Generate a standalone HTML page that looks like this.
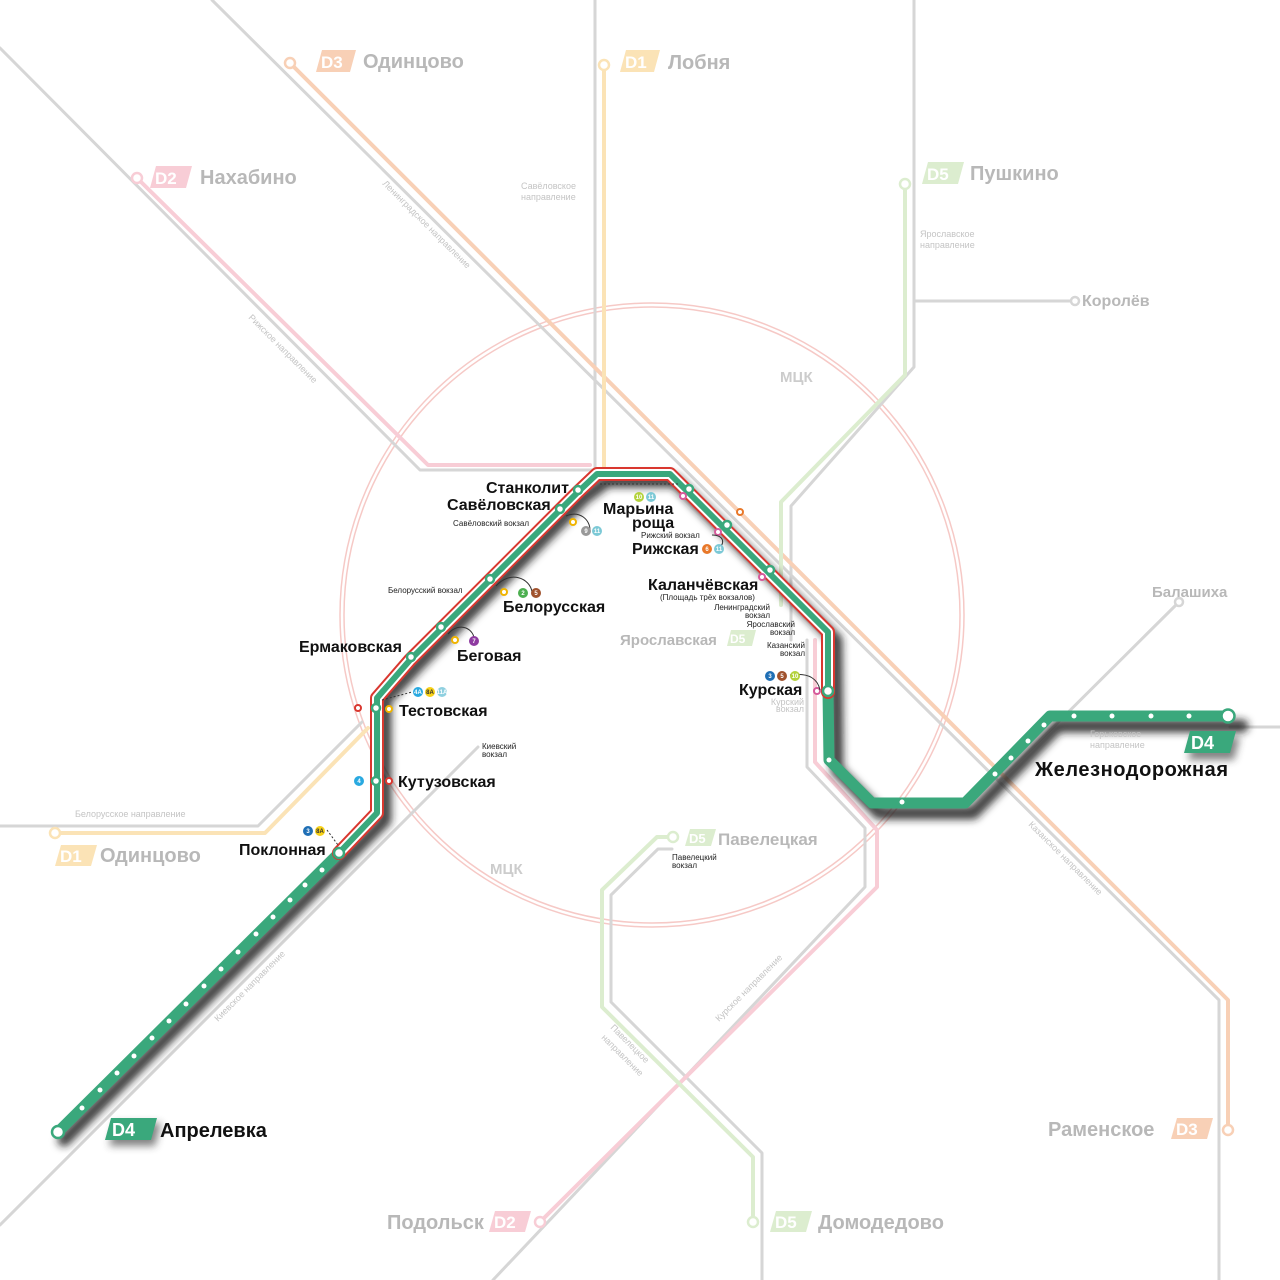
<!DOCTYPE html>
<html><head><meta charset="utf-8"><style>
html,body{margin:0;padding:0;background:#fff}
svg{display:block}
text{font-family:"Liberation Sans",sans-serif}
.b{font-weight:bold;fill:#111;font-size:16px}
.f{font-weight:bold;fill:#b8b8b8;font-size:20px}
.s{fill:#222;font-size:8px}
.d{fill:#c4c4c4;font-size:9px}
</style></head><body>
<svg width="1280" height="1280" viewBox="0 0 1280 1280" xmlns="http://www.w3.org/2000/svg">
<defs>
<filter id="sh" x="-20%" y="-20%" width="140%" height="140%"><feGaussianBlur stdDeviation="4"/></filter>
</defs>
<g fill="none" stroke-linejoin="round" stroke-linecap="round">
<circle cx="652" cy="615" r="308" stroke="#f6c9c6" stroke-width="1.5"/>
<circle cx="652" cy="615" r="312" stroke="#f6c9c6" stroke-width="1.5"/>
<g stroke="#d6d6d6" stroke-width="3">
<polyline points="0,48 420,470 600,470"/>
<line x1="595" y1="0" x2="595" y2="470"/>
<polyline points="212,0 1219,1000 1219,1280"/>
<polyline points="914,0 914,367 791,506 791,640"/>
<line x1="914" y1="301" x2="1072" y2="301"/>
<polyline points="0,826 258,826 362,722"/>
<line x1="478" y1="747" x2="0" y2="1225"/>
<polyline points="807,640 807,767 865,828 865,887 493,1280"/>
<polyline points="672,849 658,849 611,895 611,1002 762,1153 762,1280"/>
<line x1="1230" y1="727" x2="1280" y2="727"/>
<line x1="1179" y1="602" x2="1000" y2="780"/>
</g>
<polyline points="290,63 1228,1000 1228,1130" stroke="#f8d0b6" stroke-width="4"/>
<line x1="604" y1="65" x2="604" y2="470" stroke="#fbe3b6" stroke-width="4"/>
<polyline points="55,833 265,833 368,728" stroke="#fbe3b6" stroke-width="4"/>
<polyline points="137,178 428,465 590,465" stroke="#f8cdd6" stroke-width="4"/>
<polyline points="815,640 815,762 877,830 877,887 540,1222" stroke="#f8cdd6" stroke-width="4"/>
<polyline points="905,184 905,375 781,502 781,605" stroke="#dcedcf" stroke-width="4"/>
<polyline points="673,837 657,837 602,890 602,1007 753,1157 753,1222" stroke="#dcedcf" stroke-width="4"/>
<g stroke-width="2.5" fill="#fff">
<circle cx="290" cy="63" r="5" stroke="#f8d0b6"/>
<circle cx="604" cy="65" r="5" stroke="#fbe3b6"/>
<circle cx="137" cy="178" r="5" stroke="#f8cdd6"/>
<circle cx="905" cy="184" r="5" stroke="#dcedcf"/>
<circle cx="1075" cy="301" r="4" stroke="#d6d6d6"/>
<circle cx="1179" cy="602" r="4" stroke="#d6d6d6"/>
<circle cx="55" cy="833" r="5" stroke="#fbe3b6"/>
<circle cx="673" cy="837" r="5" stroke="#dcedcf"/>
<circle cx="1228" cy="1130" r="5" stroke="#f8d0b6"/>
<circle cx="540" cy="1222" r="5" stroke="#f8cdd6"/>
<circle cx="753" cy="1222" r="5" stroke="#dcedcf"/>
</g>
<g filter="url(#sh)" stroke="#222" stroke-opacity="0.85">
<polyline points="64,1140 345,860 385,820 385,700 418,665 584,498 607,481 675,481 836,640 837,770 879,813 973,813 1058,726 1242,726" stroke-width="13"/>
</g>
<polyline points="58,1132 339,853" stroke="#3aa87c" stroke-width="11"/>
<polyline points="828,690 829,760 872,803 965,803 1050,716 1228,716" stroke="#3aa87c" stroke-width="11"/>
<polyline points="339,853 377,813 377,698 410,660 578,492 597,474 670,474 828,632 828,692" stroke="#d9372f" stroke-width="14"/>
<polyline points="339,853 377,813 377,698 410,660 578,492 597,474 670,474 828,632 828,692" stroke="#fff" stroke-width="10"/>
<polyline points="339,853 377,813 377,698 410,660 578,492 597,474 670,474 828,632 828,692" stroke="#3aa87c" stroke-width="6"/>
</g>
<g fill="#fff" stroke="#3aa87c" stroke-width="2.5">
<circle cx="578" cy="490" r="4"/><circle cx="560" cy="509" r="4"/><circle cx="490" cy="579" r="4"/>
<circle cx="441" cy="627" r="4"/><circle cx="411" cy="657" r="4"/><circle cx="376" cy="708" r="4"/>
<circle cx="376" cy="781" r="4"/><circle cx="339" cy="853" r="5"/><circle cx="689" cy="489" r="4"/>
<circle cx="727" cy="525" r="4"/><circle cx="770" cy="570" r="4"/><circle cx="828" cy="691" r="5"/>
<circle cx="58" cy="1132" r="6"/><circle cx="1228" cy="716" r="6.5"/>
</g>
<g fill="#fff">
<circle cx="82" cy="1108" r="2.5"/><circle cx="100" cy="1090" r="2.5"/><circle cx="117" cy="1073" r="2.5"/><circle cx="134" cy="1056" r="2.5"/><circle cx="152" cy="1038" r="2.5"/><circle cx="169" cy="1021" r="2.5"/><circle cx="186" cy="1004" r="2.5"/><circle cx="204" cy="986" r="2.5"/><circle cx="221" cy="969" r="2.5"/><circle cx="238" cy="952" r="2.5"/><circle cx="256" cy="934" r="2.5"/><circle cx="273" cy="917" r="2.5"/><circle cx="290" cy="900" r="2.5"/><circle cx="305" cy="885" r="2.5"/><circle cx="322" cy="870" r="2.5"/>
<circle cx="829" cy="760" r="2.5"/><circle cx="902" cy="802" r="2.5"/><circle cx="995" cy="774" r="2.5"/><circle cx="1011" cy="758" r="2.5"/><circle cx="1028" cy="741" r="2.5"/><circle cx="1044" cy="725" r="2.5"/><circle cx="1074" cy="716" r="2.5"/><circle cx="1112" cy="716" r="2.5"/><circle cx="1151" cy="716" r="2.5"/><circle cx="1189" cy="716" r="2.5"/>
</g>
<g stroke-width="2" fill="#fff">
<circle cx="573" cy="522" r="3" stroke="#f0b400"/><circle cx="504" cy="592" r="3" stroke="#f0b400"/><circle cx="455" cy="640" r="3" stroke="#f0b400"/><circle cx="389" cy="709" r="3" stroke="#f0b400"/>
<circle cx="358" cy="708" r="3" stroke="#d9372f"/><circle cx="389" cy="781" r="3" stroke="#d9372f"/>
<circle cx="683" cy="496" r="3" stroke="#d65a9b"/><circle cx="718" cy="532" r="3" stroke="#d65a9b"/><circle cx="762" cy="577" r="3" stroke="#d65a9b"/><circle cx="817" cy="691" r="3" stroke="#d65a9b"/><circle cx="740" cy="512" r="3" stroke="#e8782a"/>
</g>
<g stroke="#333" stroke-width="1" fill="none">
<path d="M566,516 C580,510 590,520 590,530"/><path d="M496,586 C510,570 530,578 532,592"/><path d="M448,634 C460,620 475,630 474,640"/><path d="M712,535 C725,535 725,545 718,548"/><path d="M790,675 C810,672 818,680 820,690"/>
<path d="M600,484 L680,484" stroke-dasharray="2,2"/><path d="M382,700 L412,692" stroke-dasharray="2,2"/><path d="M327,830 L338,845" stroke-dasharray="2,2"/>
</g>
<g font-family="Liberation Sans" font-size="6" font-weight="bold" fill="#fff" text-anchor="middle">
<circle cx="586" cy="531" r="5" fill="#999"/><circle cx="597" cy="531" r="5" fill="#7cc9d6"/><text x="586" y="533">9</text><text x="597" y="533">11</text>
<circle cx="523" cy="593" r="5" fill="#4caf50"/><circle cx="536" cy="593" r="5" fill="#a0522d"/><text x="523" y="595">2</text><text x="536" y="595">5</text>
<circle cx="474" cy="641" r="5" fill="#8e3aa0"/><text x="474" y="643">7</text>
<circle cx="418" cy="692" r="5" fill="#29a9e0"/><circle cx="430" cy="692" r="5" fill="#f7d117"/><circle cx="442" cy="692" r="5" fill="#8fd0e0"/><text x="418" y="694">4A</text><text x="430" y="694" fill="#333">8A</text><text x="442" y="694">11A</text>
<circle cx="359" cy="781" r="5" fill="#29a9e0"/><text x="359" y="783">4</text>
<circle cx="308" cy="831" r="5" fill="#1f6fb5"/><circle cx="320" cy="831" r="5" fill="#f7d117"/><text x="308" y="833">3</text><text x="320" y="833" fill="#333">8A</text>
<circle cx="639" cy="497" r="5" fill="#b4d23c"/><circle cx="651" cy="497" r="5" fill="#7cc9d6"/><text x="639" y="499">10</text><text x="651" y="499">11</text>
<circle cx="707" cy="549" r="5" fill="#e8782a"/><circle cx="719" cy="549" r="5" fill="#7cc9d6"/><text x="707" y="551">6</text><text x="719" y="551">11</text>
<circle cx="770" cy="676" r="5" fill="#1f6fb5"/><circle cx="782" cy="676" r="5" fill="#a0522d"/><circle cx="795" cy="676" r="5" fill="#b4d23c"/><text x="770" y="678">3</text><text x="782" y="678">5</text><text x="795" y="678">10</text>
</g>
<text class="b" x="486" y="493">Станколит</text>
<text class="b" x="447" y="510">Савёловская</text>
<text class="s" x="453" y="526">Савёловский вокзал</text>
<text class="s" x="388" y="593">Белорусский вокзал</text>
<text class="b" x="503" y="612">Белорусская</text>
<text class="b" x="457" y="661">Беговая</text>
<text class="b" x="299" y="652">Ермаковская</text>
<text class="b" x="399" y="716">Тестовская</text>
<text class="s" x="482" y="749">Киевский</text><text class="s" x="482" y="757">вокзал</text>
<text class="b" x="398" y="787">Кутузовская</text>
<text class="b" x="239" y="855">Поклонная</text>
<text class="b" x="603" y="514">Марьина</text><text class="b" x="632" y="528">роща</text>
<text class="s" x="641" y="538">Рижский вокзал</text>
<text class="b" x="632" y="554">Рижская</text>
<text class="b" x="648" y="590">Каланчёвская</text>
<text class="s" x="660" y="600">(Площадь трёх вокзалов)</text>
<text class="s" x="770" y="610" text-anchor="end">Ленинградский</text><text class="s" x="770" y="618" text-anchor="end">вокзал</text>
<text class="s" x="795" y="627" text-anchor="end">Ярославский</text><text class="s" x="795" y="635" text-anchor="end">вокзал</text>
<text class="s" x="805" y="648" text-anchor="end">Казанский</text><text class="s" x="805" y="656" text-anchor="end">вокзал</text>
<text class="b" x="739" y="695">Курская</text>
<text class="d" x="804" y="705" text-anchor="end">Курский</text><text class="d" x="804" y="712" text-anchor="end">вокзал</text>
<text class="s" x="672" y="860">Павелецкий</text><text class="s" x="672" y="868">вокзал</text>
<g font-family="Liberation Sans" font-weight="bold" font-size="17" fill="#fff">
<polygon points="322,50 356,50 350,72 316,72" fill="#f8d0b6"/><text x="321" y="68">D3</text>
<polygon points="626,50 660,50 654,72 620,72" fill="#fbe3b6"/><text x="625" y="68">D1</text>
<polygon points="156,166 192,166 186,188 150,188" fill="#f8cdd6"/><text x="155" y="184">D2</text>
<polygon points="928,162 964,162 958,184 922,184" fill="#dcedcf"/><text x="927" y="180">D5</text>
<polygon points="61,845 97,845 91,866 55,866" fill="#fbe3b6"/><text x="60" y="862">D1</text>
<polygon points="690,829 716,829 711,846 685,846" fill="#dcedcf"/><text x="689" y="843" font-size="13">D5</text>
<polygon points="731,630 756,630 752,646 727,646" fill="#dcedcf"/><text x="730" y="643" font-size="12">D5</text>
<polygon points="1177,1118 1213,1118 1207,1139 1171,1139" fill="#f8d0b6"/><text x="1176" y="1135">D3</text>
<polygon points="495,1211 531,1211 525,1232 489,1232" fill="#f8cdd6"/><text x="494" y="1228">D2</text>
<polygon points="776,1211 812,1211 806,1232 770,1232" fill="#dcedcf"/><text x="775" y="1228">D5</text>
</g>
<text class="f" x="363" y="68">Одинцово</text>
<text class="f" x="668" y="69">Лобня</text>
<text class="f" x="200" y="184">Нахабино</text>
<text class="f" x="970" y="180">Пушкино</text>
<text class="f" x="100" y="862">Одинцово</text>
<text class="f" x="1048" y="1136">Раменское</text>
<text class="f" x="387" y="1229">Подольск</text>
<text class="f" x="818" y="1229">Домодедово</text>
<text class="f" x="718" y="845" style="font-size:17px">Павелецкая</text>
<text class="f" x="620" y="645" style="font-size:15px">Ярославская</text>
<text class="f" x="1082" y="306" style="font-size:16px">Королёв</text>
<text class="f" x="1152" y="597" style="font-size:15px">Балашиха</text>
<text class="f" x="780" y="382" style="font-size:15px;fill:#ccc">МЦК</text>
<text class="f" x="490" y="874" style="font-size:15px;fill:#ccc">МЦК</text>
<text class="d" x="521" y="189">Савёловское</text><text class="d" x="521" y="200">направление</text>
<text class="d" x="920" y="237">Ярославское</text><text class="d" x="920" y="248">направление</text>
<text class="d" x="1090" y="737">Горьковское</text><text class="d" x="1090" y="748">направление</text>
<text class="d" x="75" y="817">Белорусское направление</text>
<text class="d" transform="translate(382,184) rotate(45)">Ленинградское направление</text>
<text class="d" transform="translate(248,318) rotate(45)">Рижское направление</text>
<text class="d" transform="translate(1028,825) rotate(45)">Казанское направление</text>
<text class="d" transform="translate(218,1022) rotate(-45)">Киевское направление</text>
<text class="d" transform="translate(719,1022) rotate(-45)">Курское направление</text>
<text class="d" transform="translate(610,1028) rotate(45)">Павелецкое</text>
<text class="d" transform="translate(601,1038) rotate(45)">направление</text>
<g filter="url(#sh)" fill="#333" opacity="0.6">
<polygon points="115,1123 161,1123 155,1146 109,1146"/><polygon points="1194,737 1240,737 1234,760 1188,760"/>
</g>
<polygon points="111,1118 157,1118 151,1140 105,1140" fill="#3aa87c"/>
<text x="112" y="1136" font-family="Liberation Sans" font-weight="bold" font-size="18" fill="#fff">D4</text>
<polygon points="1190,731 1236,731 1230,753 1184,753" fill="#3aa87c"/>
<text x="1191" y="749" font-family="Liberation Sans" font-weight="bold" font-size="18" fill="#fff">D4</text>
<text x="160" y="1137" font-family="Liberation Sans" font-weight="bold" font-size="20" fill="#111">Апрелевка</text>
<text x="1035" y="776" font-family="Liberation Sans" font-weight="bold" font-size="20" fill="#111" textLength="193">Железнодорожная</text>
</svg>
</body></html>
